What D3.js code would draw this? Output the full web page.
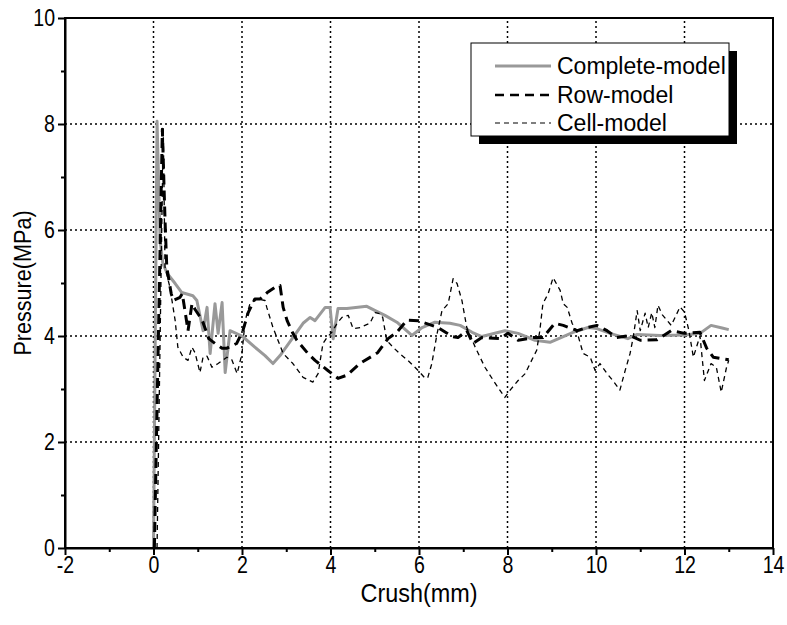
<!DOCTYPE html>
<html>
<head>
<meta charset="utf-8">
<script src="https://cdn.jsdelivr.net/npm/d3@7"></script>
<style>
  body { margin: 0; background: #fff; }
  text { font-family: "Liberation Sans", Arial, sans-serif; }
</style>
</head>
<body>
<svg id="chart" width="787" height="625"></svg>
<script>
// Complete-model (grey solid)
const completeX = [0, 0.08, 0.15, 0.21, 0.31, 0.49, 0.64, 0.89, 0.98, 1.12, 1.21, 1.28, 1.39, 1.46, 1.55, 1.62, 1.73, 2.0, 2.29, 2.52, 2.70, 2.86, 3.15, 3.38, 3.54, 3.65, 3.88, 3.99, 4.06, 4.17, 4.37, 4.82, 5.01, 5.23, 5.50, 5.84, 6.07, 6.36, 6.70, 6.93, 7.2, 7.42, 7.94, 8.24, 8.62, 8.96, 9.26, 9.48, 9.82, 10.02, 10.32, 10.72, 10.93, 11.45, 12.0, 12.35, 12.6, 12.85, 13.0];
const completeY = [0, 8.05, 5.8, 5.37, 5.18, 4.99, 4.82, 4.76, 4.67, 4.1, 4.54, 3.67, 4.61, 4.05, 4.63, 3.31, 4.1, 4.0, 3.79, 3.63, 3.48, 3.63, 3.97, 4.24, 4.35, 4.29, 4.54, 4.54, 3.95, 4.52, 4.52, 4.56, 4.48, 4.39, 4.26, 4.01, 4.16, 4.26, 4.24, 4.2, 4.07, 3.99, 4.1, 4.05, 3.92, 3.88, 3.99, 4.07, 4.16, 4.14, 4.05, 3.95, 4.03, 4.01, 4.02, 4.05, 4.2, 4.15, 4.12];

// Row-model (thick dashed)
const rowX = [0.02, 0.2, 0.26, 0.3, 0.4, 0.45, 0.6, 0.65, 0.72, 0.78, 0.87, 0.94, 1.1, 1.25, 1.39, 1.55, 1.66, 1.88, 2.02, 2.14, 2.29, 2.41, 2.57, 2.75, 2.86, 2.93, 3.02, 3.15, 3.24, 3.49, 3.65, 3.94, 4.17, 4.37, 4.66, 4.96, 5.07, 5.30, 5.50, 5.73, 5.98, 6.29, 6.43, 6.75, 6.88, 7.08, 7.22, 7.42, 7.83, 8.01, 8.24, 8.58, 8.80, 9.07, 9.26, 9.58, 9.75, 10.02, 10.25, 10.47, 10.77, 11.0, 11.38, 11.7, 12.0, 12.35, 12.5, 12.65, 13.0];
const rowY = [0, 7.9, 6.2, 5.3, 4.8, 4.67, 4.73, 4.8, 4.43, 4.1, 4.61, 4.5, 4.3, 3.95, 3.86, 3.77, 3.77, 3.86, 4.1, 4.44, 4.7, 4.7, 4.82, 4.92, 4.95, 4.54, 4.29, 4.05, 3.92, 3.67, 3.54, 3.35, 3.2, 3.26, 3.48, 3.63, 3.69, 3.95, 4.07, 4.3, 4.29, 4.2, 4.16, 3.99, 3.97, 4.1, 3.86, 3.97, 3.95, 4.05, 3.92, 3.97, 3.97, 4.24, 4.2, 4.1, 4.15, 4.2, 4.1, 3.97, 4.01, 3.92, 3.93, 4.1, 4.05, 4.07, 3.77, 3.6, 3.55];

// Cell-model (thin dashed)
const cellX = [0.08, 0.22, 0.26, 0.37, 0.49, 0.55, 0.67, 0.78, 0.87, 0.94, 1.05, 1.12, 1.21, 1.32, 1.46, 1.66, 1.77, 1.89, 2.0, 2.07, 2.18, 2.34, 2.52, 2.56, 2.70, 2.93, 3.15, 3.38, 3.60, 3.72, 3.83, 3.92, 4.03, 4.15, 4.26, 4.40, 4.51, 4.67, 4.89, 5.01, 5.12, 5.18, 5.27, 5.41, 5.56, 5.75, 5.98, 6.14, 6.20, 6.29, 6.41, 6.52, 6.66, 6.77, 6.86, 6.97, 7.08, 7.27, 7.49, 7.72, 7.94, 8.06, 8.24, 8.40, 8.51, 8.58, 8.66, 8.73, 8.80, 8.92, 9.03, 9.19, 9.26, 9.35, 9.46, 9.58, 9.71, 9.87, 9.98, 10.09, 10.25, 10.38, 10.54, 10.66, 10.77, 10.84, 10.93, 11.0, 11.11, 11.18, 11.26, 11.33, 11.40, 11.5, 11.7, 11.9, 12.0, 12.1, 12.2, 12.35, 12.45, 12.6, 12.72, 12.83, 12.95, 13.0];
const cellY = [0, 7.95, 5.3, 4.92, 4.29, 3.79, 3.6, 3.54, 3.79, 3.68, 3.31, 3.6, 3.62, 3.41, 3.48, 3.6, 3.55, 3.29, 3.67, 4.29, 4.61, 4.7, 4.67, 4.54, 4.16, 3.67, 3.48, 3.22, 3.13, 3.29, 3.86, 3.97, 4.07, 4.24, 4.35, 4.39, 4.14, 4.16, 4.24, 4.44, 4.42, 4.35, 3.92, 3.79, 3.67, 3.54, 3.35, 3.2, 3.22, 3.48, 4.05, 4.48, 4.61, 5.08, 4.99, 4.67, 4.16, 3.79, 3.41, 3.11, 2.84, 2.98, 3.16, 3.29, 3.48, 3.6, 3.73, 4.1, 4.61, 4.8, 5.1, 4.86, 4.61, 4.54, 4.24, 4.05, 3.67, 3.6, 3.35, 3.48, 3.29, 3.16, 2.98, 3.35, 3.67, 3.97, 4.48, 4.1, 4.43, 4.16, 4.44, 4.16, 4.58, 4.4, 4.2, 4.55, 4.45, 4.1, 3.6, 4.0, 3.16, 3.48, 3.41, 2.94, 3.41, 3.54];

const xTicks = [-2, 0, 2, 4, 6, 8, 10, 12, 14];
const yTicks = [0, 2, 4, 6, 8, 10];
const legendNames = ["Complete-model", "Row-model", "Cell-model"];

const svg = d3.select("#chart");
const x = d3.scaleLinear().domain([-2, 14]).range([65, 773]);
const y = d3.scaleLinear().domain([0, 10]).range([548, 18]);

// dotted grid
const grid = svg.append("g")
  .attr("stroke", "#000")
  .attr("stroke-width", 1.5)
  .attr("stroke-dasharray", "2,3");
grid.selectAll(".vg").data(xTicks.filter(d => d > -2 && d < 14)).enter()
  .append("line")
  .attr("x1", d => x(d)).attr("x2", d => x(d))
  .attr("y1", y(0)).attr("y2", y(10));
grid.selectAll(".hg").data(yTicks.filter(d => d > 0 && d < 10)).enter()
  .append("line")
  .attr("x1", x(-2)).attr("x2", x(14))
  .attr("y1", d => y(d)).attr("y2", d => y(d));

// series
const line = d3.line().x(d => x(d[0])).y(d => y(d[1]));
const zip = (xs, ys) => xs.map((v, i) => [v, ys[i]]);

const series = [
  { data: zip(completeX, completeY), color: "#999", width: 3, dash: null, legendWidth: 3, legendDash: null },
  { data: zip(rowX, rowY), color: "#000", width: 3, dash: "10,6", legendWidth: 2.5, legendDash: "9,6" },
  { data: zip(cellX, cellY), color: "#000", width: 1.3, dash: "5,4", legendWidth: 1.2, legendDash: "5,4" }
];

series.forEach(s => {
  svg.append("path")
    .datum(s.data)
    .attr("fill", "none")
    .attr("stroke", s.color)
    .attr("stroke-width", s.width)
    .attr("stroke-dasharray", s.dash)
    .attr("stroke-linejoin", "round")
    .attr("d", line);
});

// frame
svg.append("rect")
  .attr("x", x(-2)).attr("y", y(10))
  .attr("width", x(14) - x(-2)).attr("height", y(0) - y(10))
  .attr("fill", "none").attr("stroke", "#000").attr("stroke-width", 2);

// axes
const fmt = d => String(d);
const xAx = svg.append("g")
  .attr("transform", `translate(0,${y(0)})`)
  .call(d3.axisBottom(x).tickValues(xTicks).tickSize(7).tickSizeOuter(0).tickPadding(3).tickFormat(fmt));
svg.append("g")
  .attr("transform", `translate(0,${y(0)})`)
  .call(d3.axisBottom(x).tickValues(d3.range(-1, 14, 2)).tickSize(4).tickFormat(""))
  .call(g => g.select(".domain").remove());
const yAx = svg.append("g")
  .attr("transform", `translate(${x(-2)},0)`)
  .call(d3.axisLeft(y).tickValues(yTicks).tickSize(7).tickSizeOuter(0).tickPadding(3).tickFormat(fmt));
svg.append("g")
  .attr("transform", `translate(${x(-2)},0)`)
  .call(d3.axisLeft(y).tickValues(d3.range(1, 10, 2)).tickSize(4).tickFormat(""))
  .call(g => g.select(".domain").remove());

svg.selectAll(".tick line").attr("stroke-width", 2);
svg.selectAll(".domain").attr("stroke-width", 2);
svg.selectAll(".tick text")
  .attr("font-size", 23)
  .attr("fill", "#000");
// slightly condensed digits like the original
xAx.selectAll(".tick text").attr("transform", "scale(0.85,1)").attr("y", 9);
yAx.selectAll(".tick text").attr("x", 0).attr("transform", "translate(-10,0) scale(0.85,1)");

// axis titles
svg.append("text")
  .attr("transform", `translate(${(x(-2) + x(14)) / 2},602) scale(0.9,1)`)
  .attr("text-anchor", "middle").attr("font-size", 26)
  .text("Crush(mm)");
svg.append("text")
  .attr("transform", `translate(31,${(y(0) + y(10)) / 2}) rotate(-90) scale(0.9,1)`)
  .attr("text-anchor", "middle").attr("font-size", 24)
  .text("Pressure(MPa)");

// legend
const lg = svg.append("g").attr("transform", "translate(471,43)");
lg.append("rect").attr("x", 8).attr("y", 8).attr("width", 258).attr("height", 93).attr("fill", "#000");
lg.append("rect").attr("x", 0).attr("y", 0).attr("width", 258).attr("height", 93)
  .attr("fill", "#fff").attr("stroke", "#000").attr("stroke-width", 1);
legendNames.forEach((name, i) => {
  const yy = [23, 52, 80][i];
  const s = series[i];
  lg.append("line")
    .attr("x1", 24).attr("x2", 80).attr("y1", yy).attr("y2", yy)
    .attr("stroke", s.color).attr("stroke-width", s.legendWidth)
    .attr("stroke-dasharray", s.legendDash);
  lg.append("text")
    .attr("x", 86).attr("y", yy + 8)
    .attr("font-size", 23)
    .text(name);
});
</script>
</body>
</html>
